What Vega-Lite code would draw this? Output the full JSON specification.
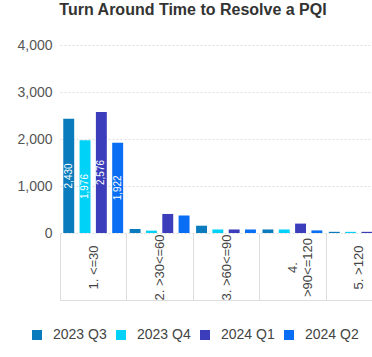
{
  "$schema": "https://vega.github.io/schema/vega-lite/v6.json",
  "autosize": "none",
  "width": 332,
  "height": 188,
  "padding": {"left": 60, "top": 45, "right": 0, "bottom": 124},
  "background": "white",
  "config": {
    "font": "Liberation Sans",
    "view": {"stroke": null}
  },
  "title": {
    "text": "Turn Around Time to Resolve a PQI",
    "fontSize": 16,
    "fontWeight": "bold",
    "color": "#333333",
    "anchor": "middle",
    "dx": -33,
    "offset": 20
  },
  "data": {
    "values": [
      {"bucket": "1. <=30", "quarter": "2023 Q3", "value": 2430},
      {"bucket": "1. <=30", "quarter": "2023 Q4", "value": 1976},
      {"bucket": "1. <=30", "quarter": "2024 Q1", "value": 2576},
      {"bucket": "1. <=30", "quarter": "2024 Q2", "value": 1922},
      {"bucket": "2. >30<=60", "quarter": "2023 Q3", "value": 85},
      {"bucket": "2. >30<=60", "quarter": "2023 Q4", "value": 50},
      {"bucket": "2. >30<=60", "quarter": "2024 Q1", "value": 405},
      {"bucket": "2. >30<=60", "quarter": "2024 Q2", "value": 375},
      {"bucket": "3. >60<=90", "quarter": "2023 Q3", "value": 155},
      {"bucket": "3. >60<=90", "quarter": "2023 Q4", "value": 75},
      {"bucket": "3. >60<=90", "quarter": "2024 Q1", "value": 75},
      {"bucket": "3. >60<=90", "quarter": "2024 Q2", "value": 75},
      {"bucket": "4. >90<=120", "quarter": "2023 Q3", "value": 75},
      {"bucket": "4. >90<=120", "quarter": "2023 Q4", "value": 75},
      {"bucket": "4. >90<=120", "quarter": "2024 Q1", "value": 200},
      {"bucket": "4. >90<=120", "quarter": "2024 Q2", "value": 55},
      {"bucket": "5. >120", "quarter": "2023 Q3", "value": 25},
      {"bucket": "5. >120", "quarter": "2023 Q4", "value": 25},
      {"bucket": "5. >120", "quarter": "2024 Q1", "value": 25},
      {"bucket": "5. >120", "quarter": "2024 Q2", "value": 20}
    ]
  },
  "encoding": {
    "x": {
      "field": "bucket",
      "type": "nominal",
      "sort": null,
      "scale": {"paddingInner": 0, "paddingOuter": 0},
      "axis": {
        "title": null,
        "orient": "bottom",
        "offset": 67,
        "domain": true,
        "domainColor": "#dddddd",
        "ticks": true,
        "tickBand": "extent",
        "tickSize": -67,
        "tickColor": "#dddddd",
        "labelAngle": -90,
        "labelAlign": "center",
        "labelBaseline": "middle",
        "labelPadding": 34,
        "labelFontSize": 13,
        "labelColor": "#444444",
        "labelExpr": "datum.value == '4. >90<=120' ? ['4.', '>90<=120'] : datum.value"
      }
    },
    "xOffset": {
      "field": "quarter",
      "type": "nominal",
      "scale": {"paddingInner": 0.33, "paddingOuter": 0.2}
    }
  },
  "layer": [
    {
      "mark": {"type": "bar"},
      "encoding": {
        "y": {
          "field": "value",
          "type": "quantitative",
          "scale": {"domain": [0, 4000], "nice": false},
          "axis": {
            "title": null,
            "values": [0, 1000, 2000, 3000, 4000],
            "format": ",d",
            "domain": false,
            "ticks": false,
            "labelPadding": 8,
            "labelFontSize": 14,
            "labelColor": "#555555",
            "gridColor": "#dddddd",
            "gridDash": [2, 2]
          }
        },
        "color": {
          "field": "quarter",
          "type": "nominal",
          "scale": {
            "domain": ["2023 Q3", "2023 Q4", "2024 Q1", "2024 Q2"],
            "range": ["#0a7cbd", "#00d2f7", "#3b3dba", "#0a6ef5"]
          },
          "legend": {
            "title": null,
            "orient": "none",
            "direction": "horizontal",
            "legendX": -30,
            "legendY": 283,
            "symbolType": "square",
            "symbolSize": 100,
            "symbolStrokeWidth": 0,
            "labelFontSize": 14,
            "labelColor": "#444444",
            "labelOffset": 9,
            "columnPadding": 7
          }
        }
      }
    },
    {
      "transform": [{"filter": "datum.value > 1000"}],
      "mark": {"type": "text", "angle": -90, "align": "center", "baseline": "middle", "color": "white", "fontSize": 10},
      "encoding": {
        "y": {
          "field": "value",
          "type": "quantitative",
          "scale": {"domain": [0, 8000], "nice": false},
          "axis": null
        },
        "text": {"field": "value", "type": "quantitative", "format": ","}
      }
    }
  ],
  "resolve": {"scale": {"y": "independent"}, "axis": {"y": "independent"}}
}
